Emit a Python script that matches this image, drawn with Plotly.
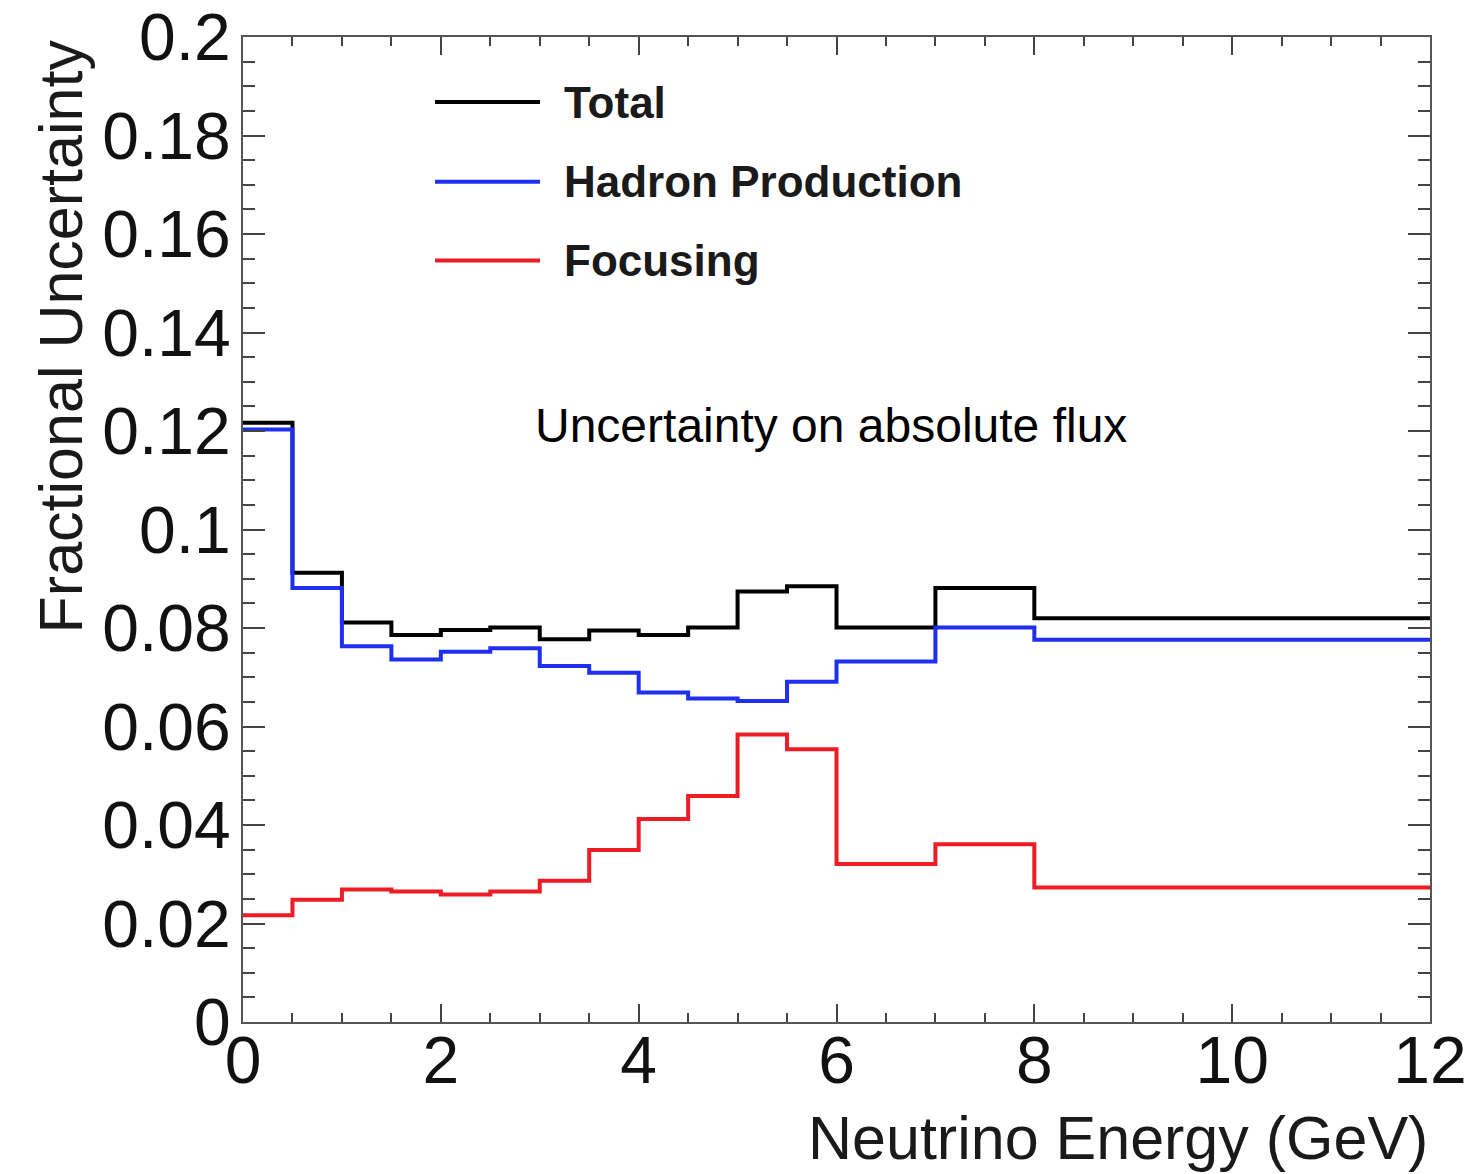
import plotly.graph_objects as go

# Bin edges (GeV) and fractional uncertainties per bin
bin_edges = [0, 0.5, 1, 1.5, 2, 2.5, 3, 3.5, 4, 4.5, 5, 5.5, 6, 7, 8, 12]
total = [0.1217, 0.0912, 0.0811, 0.0786, 0.0796, 0.0801, 0.0777, 0.0795,
         0.0786, 0.0801, 0.0874, 0.0885, 0.0801, 0.0881, 0.0820]
hadron = [0.1203, 0.0881, 0.0763, 0.0736, 0.0752, 0.0759, 0.0723, 0.0709,
          0.0669, 0.0657, 0.0652, 0.0691, 0.0732, 0.0801, 0.0776]
focusing = [0.0217, 0.0248, 0.0269, 0.0265, 0.0259, 0.0265, 0.0287, 0.0349,
            0.0412, 0.0459, 0.0584, 0.0554, 0.0321, 0.0361, 0.0273]

series_names = ["Total", "Hadron Production", "Focusing"]
series_colors = ["#000000", "#1f2ff0", "#ee1c24"]
series_values = [total, hadron, focusing]

FONT = "Liberation Sans, Arial, Helvetica, sans-serif"

fig = go.Figure()
for name, color, vals in zip(series_names, series_colors, series_values):
    fig.add_trace(go.Scatter(
        x=bin_edges, y=vals + [vals[-1]], mode="lines", line_shape="hv",
        line=dict(color=color, width=4), name=name, showlegend=False))

# Hand-drawn legend (ROOT style)
legend_y = [0.934, 0.853, 0.773]
for name, color, ly in zip(series_names, series_colors, legend_y):
    fig.add_shape(type="line", xref="paper", yref="paper",
                  x0=0.1618, x1=0.2502, y0=ly, y1=ly,
                  line=dict(color=color, width=4))
    fig.add_annotation(text=name, xref="paper", yref="paper", x=0.2687, y=ly,
                       xanchor="left", yanchor="middle", showarrow=False,
                       font=dict(family=FONT, size=44, color="#1a1a1a",
                                 weight="bold"))

fig.add_annotation(text="Uncertainty on absolute flux", xref="paper", yref="paper",
                   x=0.4954, y=0.606, xanchor="center", yanchor="middle",
                   showarrow=False, font=dict(family=FONT, size=48, color="#000000"))

# Axis titles (ROOT style: aligned to the far end of the axis)
fig.add_annotation(text="Neutrino Energy (GeV)", xref="paper", yref="paper",
                   x=1.0, y=-0.118, xanchor="right", yanchor="middle",
                   showarrow=False, font=dict(family=FONT, size=61, color="#1a1a1a"))
fig.add_annotation(text="Fractional Uncertainty", xref="paper", yref="paper",
                   x=-0.153, y=1.0, xanchor="center", yanchor="top", textangle=-90,
                   showarrow=False, font=dict(family=FONT, size=61, color="#1a1a1a"))

axis_common = dict(showgrid=False, zeroline=False, showline=True, linecolor="#555555",
                   linewidth=2, mirror="ticks", ticks="inside", tickcolor="#444444",
                   tickwidth=2, automargin=False)

fig.update_xaxes(range=[0, 12], tickmode="linear", tick0=0, dtick=2, ticklen=18,
                 tickfont=dict(family=FONT, size=66, color="#111111"),
                 ticklabelstandoff=-20,
                 minor=dict(dtick=0.5, ticks="inside", ticklen=9, tickcolor="#444444",
                            tickwidth=2),
                 **axis_common)
fig.update_yaxes(range=[0, 0.2], tickmode="linear", tick0=0, dtick=0.02, ticklen=22,
                 tickfont=dict(family=FONT, size=66, color="#111111"),
                 ticklabelstandoff=-3,
                 minor=dict(dtick=0.005, ticks="inside", ticklen=12, tickcolor="#444444",
                            tickwidth=2),
                 **axis_common)

fig.update_layout(width=1470, height=1174, plot_bgcolor="white", paper_bgcolor="white",
                  margin=dict(l=243, r=40, t=37, b=152), showlegend=False)

fig.write_html("out.html", config={"displayModeBar": False},
               post_script="document.body.style.margin='0';"
                           "document.documentElement.style.overflow='hidden';")
